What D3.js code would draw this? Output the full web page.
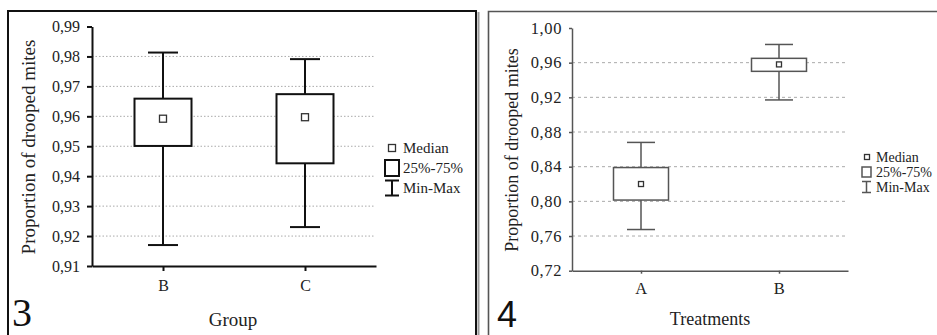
<!DOCTYPE html>
<html lang="en">

<head>
    <meta charset="UTF-8">
    <title>Boxplots</title>
    <style>
        body { margin: 0; background: #fff; }
        text { font-family: "Liberation Serif", "Times New Roman", serif; }
    </style>
</head>

<body>
    <svg width="937" height="335"></svg>
    <script src="https://d3js.org/d3.v7.min.js"></script>
    <script>

        // panel 3 data
        let groups3 = ["B", "C"];
        let min3 = [0.9170, 0.9230];
        let q1_3 = [0.9501, 0.9443];
        let med3 = [0.9592, 0.9597];
        let q3_3 = [0.9659, 0.9674];
        let max3 = [0.9813, 0.9791];
        let ticks3 = [0.91, 0.92, 0.93, 0.94, 0.95, 0.96, 0.97, 0.98, 0.99];
        let grid3 = [0.92, 0.93, 0.94, 0.95, 0.96, 0.97, 0.98];

        // panel 4 data
        let groups4 = ["A", "B"];
        let min4 = [0.7675, 0.9170];
        let q1_4 = [0.8015, 0.9500];
        let med4 = [0.8200, 0.9580];
        let q3_4 = [0.8390, 0.9650];
        let max4 = [0.8680, 0.9810];
        let ticks4 = [0.72, 0.76, 0.80, 0.84, 0.88, 0.92, 0.96, 1.00];
        let grid4 = [0.76, 0.80, 0.84, 0.88, 0.92, 0.96];

        let legendLabels = ["Median", "25%-75%", "Min-Max"];

        let svg = d3.select("svg");
        let comma = d => d3.format(".2f")(d).replace(".", ",");

        // frames
        svg.append("rect").attr("x", 8).attr("y", 11).attr("width", 468).attr("height", 340)
            .attr("fill", "none").attr("stroke", "#111").attr("stroke-width", 2);
        svg.append("line").attr("x1", 478.5).attr("x2", 478.5).attr("y1", 12).attr("y2", 335)
            .attr("stroke", "#999").attr("stroke-width", 2);
        svg.append("path").attr("d", "M488.5,335V11.5H937")
            .attr("fill", "none").attr("stroke", "#555").attr("stroke-width", 1.6);

        function drawPanel(o) {
            let g = svg.append("g");
            let x = d3.scalePoint().domain(o.groups).range(o.xr).padding(0.5);
            let y = d3.scaleLinear().domain(d3.extent(o.ticks)).range(o.yr);

            g.selectAll(".grid").data(o.grid).enter().append("line")
                .attr("x1", o.xr[0]).attr("x2", o.gridEnd)
                .attr("y1", d => y(d)).attr("y2", d => y(d))
                .attr("stroke", "#aaa").attr("stroke-width", 1)
                .attr("stroke-dasharray", o.dash);

            let ya = g.append("g").attr("transform", "translate(" + o.xr[0] + ",0)")
                .call(d3.axisLeft(y).tickValues(o.ticks).tickFormat(comma)
                    .tickSize(o.tick).tickSizeOuter(0).tickPadding(o.ypad));
            let xa = g.append("g").attr("transform", "translate(0," + o.yr[0] + ")")
                .call(d3.axisBottom(x).tickSize(o.tick).tickSizeOuter(0).tickPadding(o.xpad));
            [ya, xa].forEach(a => {
                a.selectAll("path, line").attr("stroke", o.col).attr("stroke-width", o.sw);
                a.selectAll("text").attr("fill", "#222").style("font-size", o.tf + "px")
                    .style("font-family", "Liberation Serif").style("letter-spacing", o.ls);
            });

            let idx = o.groups.map((d, i) => i);
            let half = o.bw / 2, cap = o.cw / 2;
            let b = g.selectAll(".box").data(idx).enter().append("g");
            b.append("line").attr("x1", i => x(o.groups[i])).attr("x2", i => x(o.groups[i]))
                .attr("y1", i => y(o.max[i])).attr("y2", i => y(o.min[i]));
            b.append("line").attr("x1", i => x(o.groups[i]) - cap).attr("x2", i => x(o.groups[i]) + cap)
                .attr("y1", i => y(o.max[i])).attr("y2", i => y(o.max[i]));
            b.append("line").attr("x1", i => x(o.groups[i]) - cap).attr("x2", i => x(o.groups[i]) + cap)
                .attr("y1", i => y(o.min[i])).attr("y2", i => y(o.min[i]));
            b.append("rect").attr("x", i => x(o.groups[i]) - half).attr("width", o.bw)
                .attr("y", i => y(o.q3[i])).attr("height", i => y(o.q1[i]) - y(o.q3[i]))
                .attr("fill", "#fff");
            b.selectAll("line, rect").attr("stroke", o.col).attr("stroke-width", o.sw);
            b.append("rect").attr("x", i => x(o.groups[i]) - o.ms / 2).attr("width", o.ms)
                .attr("y", i => y(o.med[i]) - o.ms / 2).attr("height", o.ms)
                .attr("fill", "#fff").attr("stroke", "#333").attr("stroke-width", 1.3);

            // axis titles
            g.append("text").attr("transform", "translate(" + o.ytx + "," + o.yty + ") rotate(-90)")
                .attr("text-anchor", "middle").style("font-size", o.yf + "px").attr("fill", "#222")
                .text("Proportion of drooped mites");
            g.append("text").attr("x", o.xtx).attr("y", o.xty).attr("text-anchor", "middle")
                .style("font-size", o.yf + "px").attr("fill", "#222").text(o.xtitle);

            // legend
            let L = o.leg;
            g.append("rect").attr("x", L.x + L.mx - L.ms / 2).attr("y", L.y0 - L.ms / 2)
                .attr("width", L.ms).attr("height", L.ms)
                .attr("fill", "#fff").attr("stroke", "#333").attr("stroke-width", 1.3);
            g.append("rect").attr("x", L.x).attr("y", L.y0 + L.dy - L.bh / 2)
                .attr("width", L.bw).attr("height", L.bh)
                .attr("fill", "#fff").attr("stroke", o.col).attr("stroke-width", o.sw);
            let wy = L.y0 + 2 * L.dy;
            g.append("path")
                .attr("d", "M" + L.x + "," + (wy - L.wh / 2) + "h" + L.bw +
                    "M" + (L.x + L.bw / 2) + "," + (wy - L.wh / 2) + "v" + L.wh +
                    "M" + L.x + "," + (wy + L.wh / 2) + "h" + L.bw)
                .attr("fill", "none").attr("stroke", o.col).attr("stroke-width", o.sw);
            g.selectAll(".lt").data(legendLabels).enter().append("text")
                .attr("x", L.tx).attr("y", (d, i) => L.y0 + i * L.dy).attr("dy", "0.33em")
                .style("font-size", L.f + "px").attr("fill", "#222").text(d => d);

            g.append("text").attr("x", o.nx).attr("y", o.ny)
                .style("font-size", o.nf + "px").style("font-family", o.nfam)
                .attr("fill", "#111").text(o.num);
        }

        drawPanel({
            groups: groups3, min: min3, q1: q1_3, med: med3, q3: q3_3, max: max3,
            ticks: ticks3, grid: grid3, xr: [92, 376], yr: [266, 26.5], gridEnd: 374,
            dash: "1.5,2", col: "#111", sw: 2, tick: 5, ypad: 7, xpad: 8.5, tf: 16, ls: "0px",
            bw: 57, cw: 30, ms: 7,
            ytx: 35, yty: 147, yf: 19, xtitle: "Group", xtx: 233, xty: 326,
            leg: { x: 385, mx: 7, y0: 148, dy: 20, ms: 7, bw: 14, bh: 16, wh: 15, tx: 403, f: 15 },
            num: "3", nx: 12, ny: 326, nf: 40, nfam: "Liberation Serif"
        });

        drawPanel({
            groups: groups4, min: min4, q1: q1_4, med: med4, q3: q3_4, max: max4,
            ticks: ticks4, grid: grid4, xr: [572, 848], yr: [270.7, 28], gridEnd: 847,
            dash: "3,3", col: "#555", sw: 1.5, tick: 3, ypad: 7, xpad: 9, tf: 16.5, ls: "0.6px",
            bw: 55, cw: 28, ms: 5,
            ytx: 518, yty: 150, yf: 18, xtitle: "Treatments", xtx: 710, xty: 325,
            leg: { x: 862, mx: 5, y0: 157, dy: 15, ms: 5, bw: 9, bh: 10, wh: 11, tx: 876, f: 14 },
            num: "4", nx: 497, ny: 327, nf: 36, nfam: "Liberation Sans"
        });

    </script>
</body>

</html>
